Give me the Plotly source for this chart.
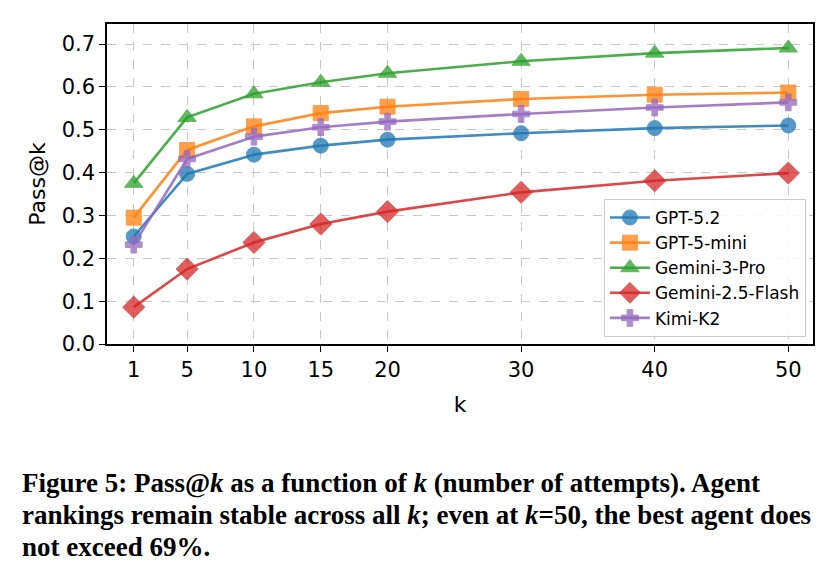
import plotly.graph_objects as go

k_values = [1, 5, 10, 15, 20, 30, 40, 50]
series_names = ["GPT-5.2", "GPT-5-mini", "Gemini-3-Pro", "Gemini-2.5-Flash", "Kimi-K2"]
gpt52 = [0.251, 0.397, 0.442, 0.463, 0.477, 0.492, 0.504, 0.510]
gpt5mini = [0.295, 0.453, 0.508, 0.539, 0.554, 0.572, 0.582, 0.587]
gemini3pro = [0.375, 0.529, 0.584, 0.611, 0.632, 0.660, 0.679, 0.691]
gemini25flash = [0.086, 0.175, 0.237, 0.280, 0.309, 0.354, 0.381, 0.399]
kimik2 = [0.232, 0.432, 0.484, 0.506, 0.519, 0.537, 0.552, 0.564]
y_ticks = [0.0, 0.1, 0.2, 0.3, 0.4, 0.5, 0.6, 0.7]
caption_lines = [
    "Figure 5: Pass@<i>k</i> as a function of <i>k</i> (number of attempts). Agent",
    "rankings remain stable across all <i>k</i>; even at <i>k</i>=50, the best agent does",
    "not exceed 69%.",
]

series_values = [gpt52, gpt5mini, gemini3pro, gemini25flash, kimik2]
colors = ["#1f77b4", "#ff7f0e", "#2ca02c", "#d62728", "#9467bd"]
line_colors = ["rgba(31,119,180,0.85)", "rgba(255,127,14,0.85)", "rgba(44,160,44,0.85)",
               "rgba(214,39,40,0.85)", "rgba(148,103,189,0.85)"]
symbols = ["circle", "square", "triangle-up", "diamond", "cross"]
sizes = [15, 15, 16, 17, 14]

fig = go.Figure()
for name, vals, c, lc, s, sz in zip(series_names, series_values, colors, line_colors, symbols, sizes):
    fig.add_trace(go.Scatter(
        x=k_values, y=vals, name=name, mode="lines+markers",
        line=dict(color=lc, width=2.6),
        marker=dict(symbol=s, size=sz, color=c, opacity=0.75,
                    line=dict(color=c, width=1)),
    ))

axis_font = dict(family="DejaVu Sans", size=21, color="black")
fig.update_layout(
    width=833, height=571,
    margin=dict(l=107, r=20, t=24, b=227),
    paper_bgcolor="white", plot_bgcolor="white",
    font=dict(family="DejaVu Sans", color="black"),
    showlegend=True,
    legend=dict(
        x=0.990, y=0.022, xanchor="right", yanchor="bottom",
        bgcolor="rgba(255,255,255,0.85)", bordercolor="#cccccc", borderwidth=1,
        font=dict(family="DejaVu Sans", size=17, color="black"),
        tracegroupgap=0, itemwidth=40,
    ),
)
fig.update_xaxes(
    range=[-1.0, 51.85], tickvals=k_values, ticktext=[str(k) for k in k_values],
    tickfont=axis_font, ticks="outside", ticklen=6, tickcolor="black",
    showline=True, linecolor="black", linewidth=1.5, mirror=True,
    showgrid=True, gridcolor="#c8c8c8", griddash="dash", gridwidth=1,
    zeroline=False,
    title=dict(text="k", font=dict(family="DejaVu Sans", size=22), standoff=16),
)
fig.update_yaxes(
    range=[0.0, 0.747], tickvals=y_ticks, ticktext=[f"{v:.1f}" for v in y_ticks],
    tickfont=axis_font, ticks="outside", ticklen=6, tickcolor="black",
    showline=True, linecolor="black", linewidth=1.5, mirror=True,
    showgrid=True, gridcolor="#c8c8c8", griddash="dash", gridwidth=1,
    zeroline=False,
    title=dict(text="Pass@k", font=dict(family="DejaVu Sans", size=22), standoff=10),
)

line_centers_px = [483, 515, 547]
plot_bottom_px = 344
plot_h = 571 - 24 - 227
for text, cy in zip(caption_lines, line_centers_px):
    fig.add_annotation(
        text="<b>" + text + "</b>", xref="paper", yref="paper",
        x=(20 - 107) / (833 - 107 - 20), y=(plot_bottom_px - cy) / plot_h,
        xanchor="left", yanchor="middle", showarrow=False, align="left",
        font=dict(family="Liberation Serif", size=27, color="black"),
    )

fig.write_html("out.html")
